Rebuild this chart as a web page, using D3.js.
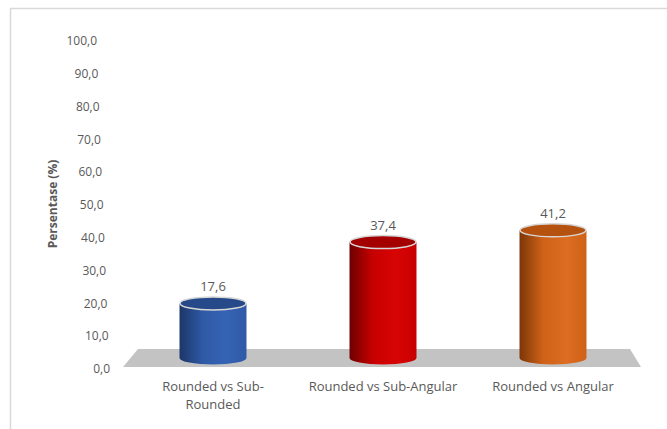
<!DOCTYPE html>
<html>
<head>
<meta charset="utf-8">
<script src="https://cdn.jsdelivr.net/npm/d3@7"></script>
<style>
  body { margin: 0; background: #fff; }
  text { font-family: "Open Sans", "Noto Sans", sans-serif; fill: #595959; }
</style>
</head>
<body>
<svg></svg>
<script>
const categories = ["Rounded vs Sub-Rounded", "Rounded vs Sub-Angular", "Rounded vs Angular"];
const categoryLines = [["Rounded vs Sub-", "Rounded"], ["Rounded vs Sub-Angular"], ["Rounded vs Angular"]];
const values = [17.6, 37.4, 41.2];
const tickValues = [0, 10, 20, 30, 40, 50, 60, 70, 80, 90, 100];
const colors = [
  {dark: "#1c3668", mid: "#2f5aa6", light: "#3563b4", top: "#26498a"},
  {dark: "#6e0000", mid: "#c80000", light: "#d80404", top: "#a40000"},
  {dark: "#7c3608", mid: "#cf6218", light: "#dc6d22", top: "#b6520f"}
];

const width = 667, height = 429;
const svg = d3.select("svg").attr("width", width).attr("height", height);

const locale = d3.formatLocale({decimal: ",", thousands: ".", grouping: [3], currency: ["", ""]});
const fmt = locale.format(".1f");

// axis scale (front of the 3d box) and the scale of the cylinders (further back)
const y = d3.scaleLinear().domain([0, 100]).range([369, 41]);
const yBar = d3.scaleLinear().domain([0, 100]).range([358, 48]);
// tick labels drift right going down because of the perspective
const tickX = d3.scaleLinear().domain([0, 100]).range([110, 97]);

const x = d3.scaleBand().domain(categories).range([128, 638]).padding(0);

// frame
svg.append("rect")
    .attr("x", 10.5).attr("y", 8.5)
    .attr("width", 700).attr("height", 440)
    .attr("fill", "none").attr("stroke", "#d9d9d9").attr("stroke-width", 1.5);

// gradients
const defs = svg.append("defs");
colors.forEach((c, i) => {
  const g = defs.append("linearGradient").attr("id", "g" + i)
      .attr("x1", "0%").attr("x2", "100%").attr("y1", "0%").attr("y2", "0%");
  g.append("stop").attr("offset", "0%").attr("stop-color", c.dark);
  g.append("stop").attr("offset", "35%").attr("stop-color", c.mid);
  g.append("stop").attr("offset", "70%").attr("stop-color", c.light);
  g.append("stop").attr("offset", "100%").attr("stop-color", c.mid);
});

// y axis labels
const yAxis = svg.append("g");
yAxis.selectAll("text")
  .data(tickValues)
  .enter()
  .append("text")
    .attr("x", d => tickX(d))
    .attr("y", d => y(d))
    .attr("dy", "0.35em")
    .attr("text-anchor", "end")
    .attr("font-size", 12)
    .text(d => fmt(d));

svg.append("text")
    .attr("transform", "translate(57,204) rotate(-90)")
    .attr("text-anchor", "middle")
    .attr("font-size", 12)
    .attr("font-weight", "bold")
    .text("Persentase (%)");

// floor
const fy = y(0) - 2;
svg.append("path")
    .attr("d", `M${x.range()[0] - 5},${fy} L${x.range()[0] + 10},${fy - 18} L${x.range()[1] - 8},${fy - 18} L${x.range()[1] + 3},${fy} Z`)
    .attr("fill", "#c3c3c3");

// cylinders
const rx = x.bandwidth() * 0.197;
const ry = 6.5;
const bars = svg.selectAll("g.bar")
  .data(values)
  .enter()
  .append("g").attr("class", "bar");

bars.append("path")
    .attr("d", (d, i) => {
      const cx = x(categories[i]) + x.bandwidth() / 2;
      const yt = yBar(d), yb = yBar(0);
      return `M${cx - rx},${yt} L${cx - rx},${yb} A${rx},${ry} 0 0 0 ${cx + rx},${yb} L${cx + rx},${yt} A${rx},${ry} 0 0 1 ${cx - rx},${yt} Z`;
    })
    .attr("fill", (d, i) => `url(#g${i})`);

bars.append("ellipse")
    .attr("cx", (d, i) => x(categories[i]) + x.bandwidth() / 2)
    .attr("cy", d => yBar(d))
    .attr("rx", rx - 0.5)
    .attr("ry", ry)
    .attr("fill", (d, i) => colors[i].top)
    .attr("stroke", "#d6d6d6")
    .attr("stroke-width", 1.5);

bars.append("text")
    .attr("x", (d, i) => x(categories[i]) + x.bandwidth() / 2)
    .attr("y", d => yBar(d) - 12)
    .attr("text-anchor", "middle")
    .attr("font-size", 13)
    .text(d => fmt(d));

// category labels
const labels = svg.selectAll("text.cat")
  .data(categories)
  .enter()
  .append("text").attr("class", "cat")
    .attr("text-anchor", "middle")
    .attr("font-size", 13)
    .attr("y", 391);

labels.each(function(d, i) {
  const t = d3.select(this);
  const cx = x(d) + x.bandwidth() / 2;
  categoryLines[i].forEach((l, k) => {
    t.append("tspan").attr("x", cx).attr("dy", k ? 18 : 0).text(l);
  });
});
</script>
</body>
</html>
